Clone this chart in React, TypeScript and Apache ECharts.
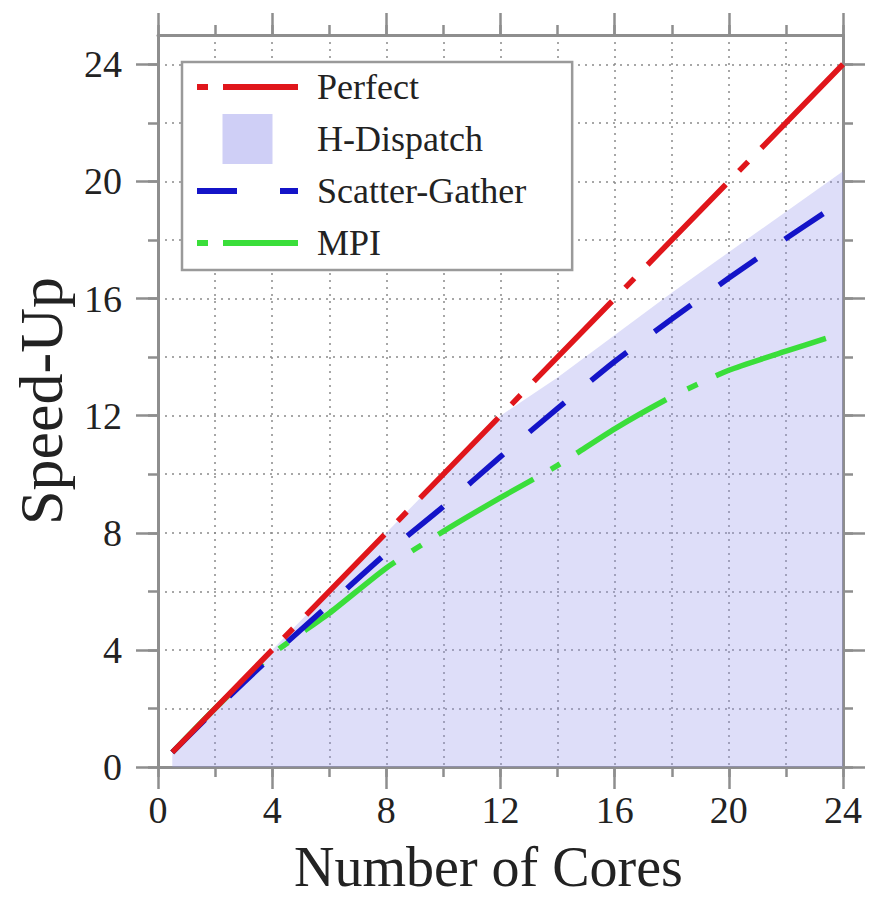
import React, { useEffect, useRef } from 'react';
import * as echarts from 'echarts';

// ---- data ----
const cores = [0.5, 2, 4, 6, 8, 10, 12, 14, 16, 18, 20, 22, 23.4];
const scatterGather = [0.5, 1.95, 3.8, 5.55, 7.3, 8.9, 10.6, 12.25, 13.85, 15.3, 16.7, 18.05, 18.96];
const mpi = [0.5, 2.0, 3.85, 5.25, 6.8, 8.05, 9.2, 10.3, 11.55, 12.65, 13.55, 14.2, 14.64];
const perfectX = [0.5, 24];
const perfectY = [0.5, 24];
const hDispatchX = [0.5, 4, 8, 12, 14, 18, 24];
const hDispatchY = [0.5, 4, 8, 12, 13.3, 16.2, 20.35];
const majorTicks = [0, 4, 8, 12, 16, 20, 24];
const minorTicks = [0, 2, 4, 6, 8, 10, 12, 14, 16, 18, 20, 22, 24];

// ---- styles ----
const FONT = "'Liberation Serif', 'Times New Roman', 'DejaVu Serif', serif";
const GRAY = '#8e8e8e';
const TEXT = '#222';
const RED = '#e0161b';
const BLUE = '#1414c8';
const GREEN = '#3ade3a';
const AREA_ICON = '#cfcff6';
const redDash = [143, 17, 13, 19, 112, 19, 13, 19, 112, 19, 13, 19, 112, 19, 13, 19, 112, 19, 13, 19, 400, 10];
const greenDash = [127, 22, 11, 20, 114, 20, 11, 20, 110, 20, 11, 20, 104, 24, 11, 20, 400, 10];
const blueDash = [46, 34];
const dashDotIcon = 'path://M0,0h11v6h-11z M26,0h75v6h-75z';
const dashIcon = 'path://M0,0h40v6h-40z M83,0h18v6h-18z';
const squareIcon = 'path://M0,0h10v10h-10z';

function zip(xs: number[], ys: number[]) {
  return xs.map((x, i) => [x, ys[i]]);
}

const lineAxis = { show: true, onZero: false, lineStyle: { color: GRAY, width: 3 } };
const noLine = { show: false, onZero: false };
const tickStyle = { color: GRAY, width: 2.5 };

export default function App() {
  const ref = useRef<HTMLDivElement>(null);
  useEffect(() => {
    if (!ref.current) return;
    const chart = echarts.init(ref.current, undefined, { renderer: 'svg' });
    const gridSplit = { show: true, lineStyle: { color: '#8a8a8a', width: 1.5, type: [2, 5] as any } };
    const labelStyle = { fontFamily: FONT, fontSize: 38, color: TEXT };
    const option: any = {
      animation: false,
      backgroundColor: '#fff',
      grid: { left: 158, right: 30, top: 35, bottom: 130, containLabel: false },
      legend: {
        show: true,
        orient: 'vertical',
        left: 182,
        top: 62,
        itemWidth: 101,
        itemHeight: 50,
        itemGap: 2,
        padding: [0, 46, 2, 15],
        backgroundColor: '#fff',
        borderColor: '#9a9a9a',
        borderWidth: 2.5,
        selectedMode: false,
        z: 10,
        textStyle: { fontFamily: FONT, fontSize: 36, lineHeight: 50, color: TEXT, padding: [0, 0, 0, 14] },
        data: [
          { name: 'Perfect', icon: dashDotIcon, itemStyle: { color: RED } },
          { name: 'H-Dispatch', icon: squareIcon, itemStyle: { color: AREA_ICON } },
          { name: 'Scatter-Gather', icon: dashIcon, itemStyle: { color: BLUE } },
          { name: 'MPI', icon: dashDotIcon, itemStyle: { color: GREEN } },
        ],
      },
      xAxis: [
        {
          type: 'value', position: 'bottom', min: 0, max: 24, interval: 2,
          axisLine: lineAxis,
          axisTick: { show: true, length: 10, lineStyle: tickStyle },
          axisLabel: { show: false },
          splitLine: gridSplit,
          name: 'Number of Cores', nameLocation: 'middle', nameGap: 72,
          nameTextStyle: { fontFamily: FONT, fontSize: 56, color: TEXT, padding: [0, 24, 0, 0] },
        },
        {
          type: 'value', position: 'bottom', min: 0, max: 24, interval: 4,
          axisLine: noLine,
          axisTick: { show: true, length: 22, lineStyle: tickStyle },
          axisLabel: { show: true, margin: 24, ...labelStyle },
          splitLine: { show: false },
        },
        {
          type: 'value', position: 'top', min: 0, max: 24, interval: 2,
          axisLine: lineAxis,
          axisTick: { show: true, length: 10, lineStyle: tickStyle },
          axisLabel: { show: false },
          splitLine: { show: false },
        },
        {
          type: 'value', position: 'top', min: 0, max: 24, interval: 4,
          axisLine: noLine,
          axisTick: { show: true, length: 22, lineStyle: tickStyle },
          axisLabel: { show: false },
          splitLine: { show: false },
        },
      ],
      yAxis: [
        {
          type: 'value', position: 'left', min: 0, max: 25, interval: 2,
          axisLine: lineAxis,
          axisTick: { show: true, length: 10, lineStyle: tickStyle, customValues: minorTicks },
          axisLabel: { show: false },
          splitLine: gridSplit,
          name: 'Speed-Up', nameLocation: 'middle', nameGap: 86,
          nameTextStyle: { fontFamily: FONT, fontSize: 62, color: TEXT },
        },
        {
          type: 'value', position: 'left', min: 0, max: 25, interval: 4,
          axisLine: noLine,
          axisTick: { show: true, length: 22, lineStyle: tickStyle, customValues: majorTicks },
          axisLabel: {
            show: true, margin: 36, ...labelStyle, customValues: majorTicks,
            formatter: (v: number) => (v > 24 ? '' : String(v)),
          },
          splitLine: { show: false },
        },
        {
          type: 'value', position: 'right', min: 0, max: 25, interval: 2,
          axisLine: lineAxis,
          axisTick: { show: true, length: 10, lineStyle: tickStyle, customValues: minorTicks },
          axisLabel: { show: false },
          splitLine: { show: false },
        },
        {
          type: 'value', position: 'right', min: 0, max: 25, interval: 4,
          axisLine: noLine,
          axisTick: { show: true, length: 22, lineStyle: tickStyle, customValues: majorTicks },
          axisLabel: { show: false },
          splitLine: { show: false },
        },
      ],
      series: [
        {
          name: 'H-Dispatch', type: 'line', xAxisIndex: 0, yAxisIndex: 0,
          data: zip(hDispatchX, hDispatchY), symbol: 'none', showSymbol: false,
          lineStyle: { width: 0 }, itemStyle: { color: AREA_ICON },
          areaStyle: { color: 'rgba(150,150,236,0.45)', origin: 'start' }, z: 1,
        },
        {
          name: 'MPI', type: 'line', xAxisIndex: 0, yAxisIndex: 0,
          data: zip(cores, mpi), symbol: 'none', showSymbol: false, smooth: 0.2,
          itemStyle: { color: GREEN },
          lineStyle: { color: GREEN, width: 5.5, type: greenDash }, z: 2,
        },
        {
          name: 'Scatter-Gather', type: 'line', xAxisIndex: 0, yAxisIndex: 0,
          data: zip(cores, scatterGather), symbol: 'none', showSymbol: false, smooth: 0.2,
          itemStyle: { color: BLUE },
          lineStyle: { color: BLUE, width: 5.5, type: blueDash }, z: 3,
        },
        {
          name: 'Perfect', type: 'line', xAxisIndex: 0, yAxisIndex: 0,
          data: zip(perfectX, perfectY), symbol: 'none', showSymbol: false,
          itemStyle: { color: RED },
          lineStyle: { color: RED, width: 5.5, type: redDash }, z: 4,
        },
      ],
    };
    chart.setOption(option);
    return () => chart.dispose();
  }, []);
  return <div ref={ref} style={{ position: 'fixed', left: 0, top: 0, width: 873, height: 900 }} />;
}
